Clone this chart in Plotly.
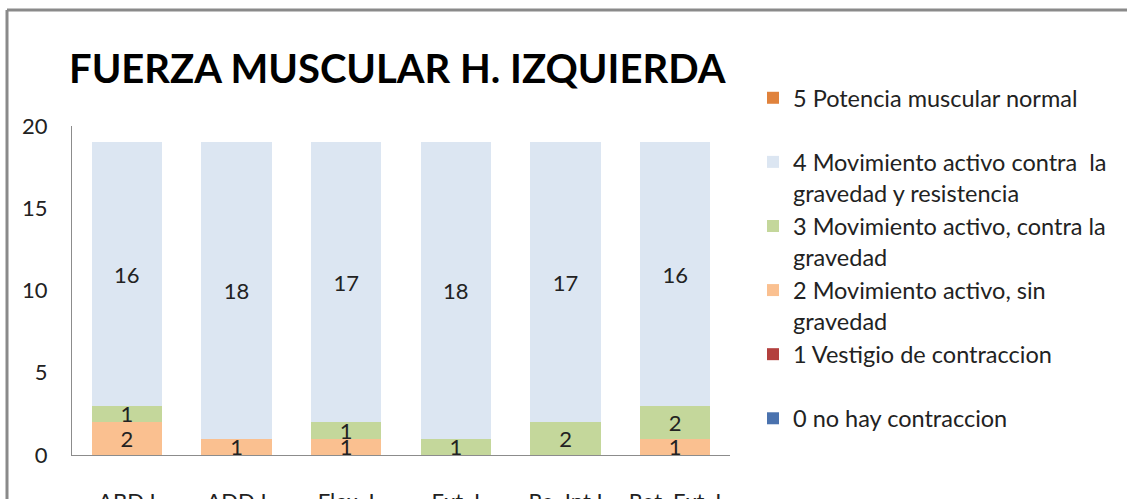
import plotly.graph_objects as go

categories = ["ABD I", "ADD I", "Flex. I", "Ext. I", "Ro. Int I", "Rot. Ext. I"]

series_names = [
    "0 no hay contraccion",
    "1 Vestigio de contraccion",
    "2 Movimiento activo, sin<br>gravedad",
    "3 Movimiento activo, contra la<br>gravedad",
    "4 Movimiento activo contra  la<br>gravedad y resistencia",
    "5 Potencia muscular normal",
]
grade0 = [0, 0, 0, 0, 0, 0]
grade1 = [0, 0, 0, 0, 0, 0]
grade2 = [2, 1, 1, 0, 0, 1]
grade3 = [1, 0, 1, 1, 2, 2]
grade4 = [16, 18, 17, 18, 17, 16]
grade5 = [0, 0, 0, 0, 0, 0]
series_values = [grade0, grade1, grade2, grade3, grade4, grade5]
series_colors = ["#4A72AE", "#B3403E", "#FAC090", "#C4D79B", "#DCE6F2", "#E0823C"]

FONT = "Lato, 'Open Sans', sans-serif"

fig = go.Figure()
for i, (name, vals, col) in enumerate(zip(series_names, series_values, series_colors)):
    legend_name = name if "<br>" in name else name + "<br> "
    fig.add_trace(go.Bar(
        x=categories, y=vals, name=legend_name, legendgroup="g%d" % i,
        marker=dict(color=col, line=dict(width=0)),
        text=[str(v) if v > 0 else "" for v in vals],
        textposition="inside", insidetextanchor="middle", textangle=0,
        constraintext="none", cliponaxis=False,
        textfont=dict(family=FONT, size=22, color="#222222"),
        hoverinfo="skip",
    ))

# plot area in pixels
L, R, T, B = 72, 730, 126, 455
W, H = 1127, 499

def px(x):
    return (x - L) / (R - L)

def py(y):
    return (B - y) / (B - T)

fig.update_layout(
    width=W, height=H,
    barmode="stack", bargap=0.36,
    margin=dict(l=L, r=W - R, t=T, b=H - B, autoexpand=False),
    plot_bgcolor="white", paper_bgcolor="white",
    font=dict(family=FONT, size=22, color="#222222"),
    title=dict(
        text="<b>FUERZA MUSCULAR H. IZQUIERDA</b>",
        font=dict(family=FONT, size=40, color="black"),
        xref="container", x=69 / W, xanchor="left",
        yref="container", y=1 - 69 / H, yanchor="middle",
    ),
    showlegend=True,
    legend=dict(
        traceorder="reversed", valign="top", tracegroupgap=5.5,
        x=px(753), xanchor="left", y=py(76), yanchor="top",
        maxheight=490,
        font=dict(family=FONT, size=23.5, color="#222222"),
        itemclick=False, bgcolor="rgba(0,0,0,0)",
    ),
    shapes=[
        dict(type="line", xref="paper", yref="paper",
             x0=px(7), x1=px(1135), y0=py(10), y1=py(10),
             line=dict(color="#8A8A8A", width=3)),
        dict(type="line", xref="paper", yref="paper",
             x0=px(7), x1=px(7), y0=py(10), y1=py(510),
             line=dict(color="#8A8A8A", width=3)),
    ],
)
fig.update_yaxes(
    range=[0, 20], dtick=5, showgrid=False, zeroline=False,
    showline=True, linecolor="#8C8C8C", linewidth=1,
    ticks="outside", ticklen=19, tickcolor="rgba(0,0,0,0)",
    tickfont=dict(family=FONT, size=22, color="#222222"),
    automargin=False,
)
fig.update_xaxes(
    showline=True, linecolor="#8C8C8C", linewidth=1,
    ticks="outside", ticklen=27, tickcolor="rgba(0,0,0,0)",
    tickfont=dict(family=FONT, size=22, color="#222222"),
    automargin=False,
)

fig.write_html("out.html", config={"displayModeBar": False},
               post_script="document.body.style.margin='0';")
